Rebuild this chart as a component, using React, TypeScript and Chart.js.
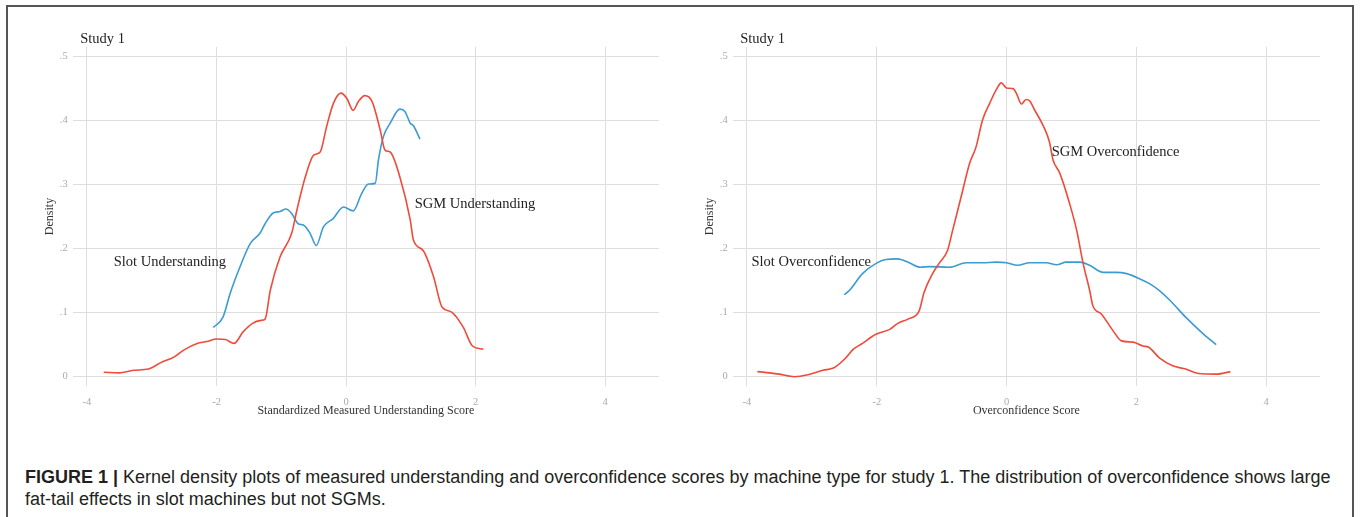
import React, { useEffect, useRef } from 'react';
import { Chart, registerables } from 'chart.js';

Chart.register(...registerables);

// ---------- data ----------
const xTicks = [-4, -2, 0, 2, 4];
const xTickLabels = ['-4', '-2', '0', '2', '4'];
const yTicks = [0, 0.1, 0.2, 0.3, 0.4, 0.5];
const yTickLabels = ['0', '.1', '.2', '.3', '.4', '.5'];

// Left panel: understanding
const sgmUnderstandingX = [-3.74, -3.5, -3.28, -3.05, -2.86, -2.65, -2.5, -2.3, -2.15, -2.0, -1.86, -1.73, -1.59, -1.45, -1.31, -1.25, -1.17, -1.02, -0.84, -0.76, -0.63, -0.5, -0.4, -0.3, -0.196, -0.08, 0.01, 0.11, 0.19, 0.29, 0.4, 0.525, 0.6, 0.68, 0.83, 0.99, 1.04, 1.19, 1.35, 1.48, 1.63, 1.81, 1.95, 2.12];
const sgmUnderstandingY = [0.007, 0.006, 0.01, 0.012, 0.022, 0.031, 0.042, 0.052, 0.055, 0.059, 0.058, 0.052, 0.07, 0.083, 0.088, 0.09, 0.135, 0.187, 0.224, 0.26, 0.312, 0.346, 0.351, 0.391, 0.427, 0.443, 0.435, 0.416, 0.43, 0.439, 0.43, 0.386, 0.354, 0.351, 0.312, 0.245, 0.213, 0.197, 0.156, 0.109, 0.101, 0.077, 0.048, 0.043];
const slotUnderstandingX = [-2.05, -1.9, -1.79, -1.64, -1.48, -1.33, -1.25, -1.12, -1.02, -0.93, -0.84, -0.74, -0.66, -0.556, -0.46, -0.35, -0.2, -0.04, 0.11, 0.24, 0.345, 0.45, 0.5, 0.576, 0.68, 0.83, 0.91, 0.99, 1.04, 1.14];
const slotUnderstandingY = [0.077, 0.093, 0.13, 0.171, 0.208, 0.224, 0.239, 0.256, 0.258, 0.262, 0.255, 0.239, 0.237, 0.224, 0.205, 0.234, 0.247, 0.265, 0.259, 0.286, 0.301, 0.302, 0.339, 0.375, 0.396, 0.418, 0.414, 0.396, 0.392, 0.371];

// Right panel: overconfidence
const sgmOverX = [-3.84, -3.5, -3.27, -3.06, -2.83, -2.66, -2.49, -2.36, -2.22, -2.02, -1.8, -1.68, -1.52, -1.35, -1.27, -1.14, -1.04, -0.91, -0.83, -0.7, -0.57, -0.47, -0.37, -0.26, -0.16, -0.08, 0.0, 0.1, 0.15, 0.23, 0.3, 0.355, 0.43, 0.56, 0.66, 0.715, 0.82, 0.97, 1.08, 1.18, 1.28, 1.33, 1.46, 1.64, 1.77, 1.95, 2.1, 2.19, 2.36, 2.56, 2.76, 2.96, 3.23, 3.45];
const sgmOverY = [0.008, 0.004, 0.0, 0.003, 0.01, 0.014, 0.028, 0.043, 0.052, 0.066, 0.074, 0.083, 0.09, 0.102, 0.132, 0.161, 0.177, 0.197, 0.229, 0.281, 0.333, 0.359, 0.401, 0.427, 0.448, 0.459, 0.451, 0.45, 0.443, 0.426, 0.433, 0.431, 0.417, 0.393, 0.367, 0.339, 0.318, 0.271, 0.229, 0.177, 0.135, 0.111, 0.098, 0.072, 0.056, 0.054, 0.048, 0.046, 0.029, 0.017, 0.012, 0.005, 0.004, 0.008];
const slotOverX = [-2.5, -2.42, -2.22, -2.01, -1.86, -1.68, -1.5, -1.33, -1.19, -0.88, -0.62, -0.37, -0.16, 0.0, 0.17, 0.355, 0.61, 0.77, 0.92, 1.13, 1.28, 1.49, 1.69, 1.85, 2.05, 2.21, 2.36, 2.52, 2.76, 3.03, 3.16, 3.23];
const slotOverY = [0.128, 0.135, 0.161, 0.177, 0.183, 0.184, 0.178, 0.171, 0.172, 0.171, 0.178, 0.178, 0.179, 0.178, 0.174, 0.178, 0.178, 0.175, 0.179, 0.179, 0.174, 0.163, 0.163, 0.161, 0.153, 0.145, 0.134, 0.119, 0.093, 0.067, 0.056, 0.05];

const leftLabels = [
  { text: 'Slot Understanding', x: -2.72, y: 0.179 },
  { text: 'SGM Understanding', x: 1.99, y: 0.27 },
];
const rightLabels = [
  { text: 'Slot Overconfidence', x: -3.01, y: 0.179 },
  { text: 'SGM Overconfidence', x: 1.68, y: 0.35 },
];

const RED = '#EE4B3B';
const BLUE = '#3C9BD0';
const SERIF = '"Liberation Serif", "DejaVu Serif", serif';

type Lbl = { text: string; x: number; y: number };

function toPoints(xs: number[], ys: number[]) {
  return xs.map((x, i) => ({ x, y: ys[i] }));
}

function Panel(props: {
  left: number;
  padRight: number;
  xTitle: string;
  red: { x: number; y: number }[];
  blue: { x: number; y: number }[];
  labels: Lbl[];
}) {
  const ref = useRef<HTMLCanvasElement | null>(null);
  useEffect(() => {
    if (!ref.current) return;
    const annot = {
      id: 'annot',
      afterDatasetsDraw(chart: any) {
        const { ctx, chartArea, scales } = chart;
        ctx.save();
        ctx.fillStyle = '#222';
        ctx.font = '14.5px ' + SERIF;
        ctx.textBaseline = 'middle';
        ctx.textAlign = 'left';
        ctx.fillText('Study 1', chartArea.left + 7.5, chartArea.top - 8);
        ctx.textAlign = 'center';
        for (const l of props.labels) {
          ctx.fillText(l.text, scales.x.getPixelForValue(l.x), scales.y.getPixelForValue(l.y));
        }
        ctx.restore();
      },
    };
    const chart = new Chart(ref.current, {
      type: 'line',
      data: {
        datasets: [
          { data: props.red, borderColor: RED, borderWidth: 1.6, pointRadius: 0, cubicInterpolationMode: 'monotone', fill: false },
          { data: props.blue, borderColor: BLUE, borderWidth: 1.6, pointRadius: 0, cubicInterpolationMode: 'monotone', fill: false },
        ],
      },
      options: {
        animation: false,
        responsive: false,
        parsing: true,
        layout: { padding: { top: 27, right: props.padRight, left: 0, bottom: 0 } },
        plugins: { legend: { display: false }, tooltip: { enabled: false }, title: { display: false } },
        scales: {
          x: {
            type: 'linear',
            min: -4.22,
            max: 4.83,
            afterBuildTicks: (s: any) => { s.ticks = xTicks.map((v) => ({ value: v })); },
            afterFit: (s: any) => { s.height = 44; },
            grid: { color: '#dedede', lineWidth: 1, drawTicks: false },
            border: { display: false },
            ticks: {
              autoSkip: false,
              maxRotation: 0,
              padding: 10,
              color: '#aaaaaa',
              font: { family: SERIF, size: 10.5 },
              callback: (v: any) => xTickLabels[xTicks.indexOf(Number(v))] ?? '',
            },
            title: {
              display: true,
              text: props.xTitle,
              color: '#333',
              font: { family: SERIF, size: 12, lineHeight: 1.2 },
              padding: { top: 0, bottom: 11.8 },
            },
          },
          y: {
            type: 'linear',
            min: -0.0145,
            max: 0.515,
            afterBuildTicks: (s: any) => { s.ticks = yTicks.map((v) => ({ value: v })); },
            afterFit: (s: any) => { s.width = 52.7; },
            grid: { color: '#dedede', lineWidth: 1, drawTicks: false },
            border: { display: false },
            ticks: {
              autoSkip: false,
              padding: 5,
              color: '#aaaaaa',
              font: { family: SERIF, size: 10.5 },
              callback: (v: any) => yTickLabels[yTicks.indexOf(Math.round(Number(v) * 10) / 10)] ?? '',
            },
            title: {
              display: true,
              text: 'Density',
              color: '#333',
              font: { family: SERIF, size: 12, lineHeight: 1.2 },
              padding: { top: 22.8, bottom: 0 },
            },
          },
        },
      },
      plugins: [annot],
    } as any);
    return () => chart.destroy();
  }, []);
  return (
    <canvas
      ref={ref}
      width={660}
      height={410}
      style={{ position: 'absolute', left: props.left, top: 20, width: 660, height: 410 }}
    />
  );
}

export default function App() {
  return (
    <div style={{ position: 'fixed', left: 0, top: 0, width: 1360, height: 517, background: '#fff', overflow: 'hidden' }}>
      <div
        style={{
          position: 'absolute',
          left: 6,
          top: 5,
          width: 1348,
          height: 600,
          border: '2px solid #555',
          boxSizing: 'border-box',
        }}
      />
      <Panel
        left={20}
        padRight={21}
        xTitle="Standardized Measured Understanding Score"
        red={toPoints(sgmUnderstandingX, sgmUnderstandingY)}
        blue={toPoints(slotUnderstandingX, slotUnderstandingY)}
        labels={leftLabels}
      />
      <Panel
        left={680}
        padRight={20}
        xTitle="Overconfidence Score"
        red={toPoints(sgmOverX, sgmOverY)}
        blue={toPoints(slotOverX, slotOverY)}
        labels={rightLabels}
      />
      <div
        style={{
          position: 'absolute',
          left: 25,
          top: 466,
          fontFamily: '"Liberation Sans", Arial, sans-serif',
          fontSize: 18,
          lineHeight: '22px',
          color: '#231f20',
          whiteSpace: 'nowrap',
        }}
      >
        <b>FIGURE 1 |</b> Kernel density plots of measured understanding and overconfidence scores by machine type for study 1. The distribution of overconfidence shows large
        <br />
        fat-tail effects in slot machines but not SGMs.
      </div>
    </div>
  );
}
